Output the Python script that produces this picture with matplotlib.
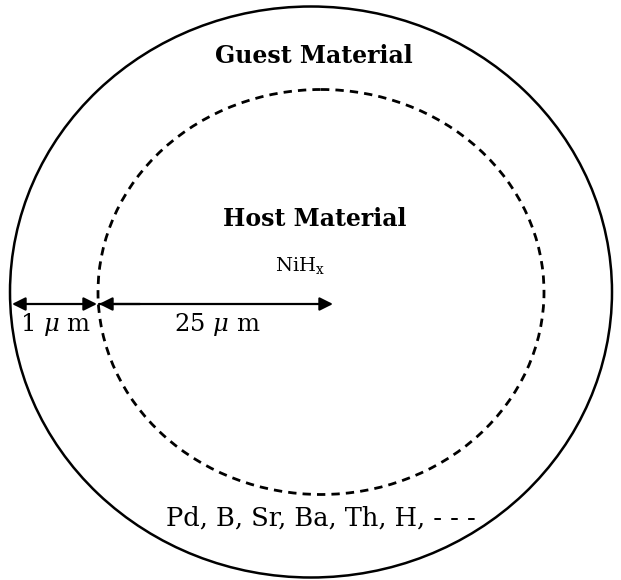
import matplotlib.pyplot as plt
from matplotlib.patches import Ellipse

# outer (guest) and inner (host) shells, pixel units of the picture
outer_center = (311, 292)
outer_size = (602, 571)
inner_center = (321, 292)
inner_size = (446, 405)

titles = ['Guest Material', 'Host Material']
host_formula = 'NiH$_{\\mathrm{x}}$'
elements = 'Pd, B, Sr, Ba, Th, H, - - -'
thickness_labels = ['1 $\\mu$ m', '25 $\\mu$ m']

fig = plt.figure(figsize=(6.21, 5.80), dpi=100)
ax = fig.add_axes([0, 0, 1, 1])
ax.set_xlim(0, 621)
ax.set_ylim(580, 0)
ax.axis('off')

ax.add_patch(Ellipse(outer_center, outer_size[0], outer_size[1],
                     fill=False, ec='black', lw=1.8))
ax.add_patch(Ellipse(inner_center, inner_size[0], inner_size[1],
                     fill=False, ec='black', lw=2.0, ls=(0, (3.0, 2.2))))

plt.rcParams['font.family'] = ['DejaVu Serif']
plt.rcParams['mathtext.fontset'] = 'dejavuserif'

ax.text(314, 56, titles[0], ha='center', va='center', fontsize=17, fontweight='bold')
ax.text(315, 219, titles[1], ha='center', va='center', fontsize=17, fontweight='bold')
ax.text(300, 266, host_formula, ha='center', va='center', fontsize=14)
ax.text(321, 518, elements, ha='center', va='center', fontsize=18.5)

# dimension arrows
arrow_y = 304
ax.annotate('', xy=(12, arrow_y), xytext=(97, arrow_y),
            arrowprops=dict(arrowstyle='<|-|>', color='black', lw=1.6,
                            mutation_scale=20, shrinkA=0, shrinkB=0))
ax.annotate('', xy=(333, arrow_y), xytext=(99, arrow_y),
            arrowprops=dict(arrowstyle='-|>', color='black', lw=1.6,
                            mutation_scale=20, shrinkA=0, shrinkB=0))
ax.annotate('', xy=(99, arrow_y), xytext=(140, arrow_y),
            arrowprops=dict(arrowstyle='-|>', color='black', lw=1.6,
                            mutation_scale=20, shrinkA=0, shrinkB=0))

ax.text(55, 325, thickness_labels[0], ha='center', va='center', fontsize=17.5)
ax.text(217, 325, thickness_labels[1], ha='center', va='center', fontsize=17.5)

fig.savefig('out.png', dpi=100)
